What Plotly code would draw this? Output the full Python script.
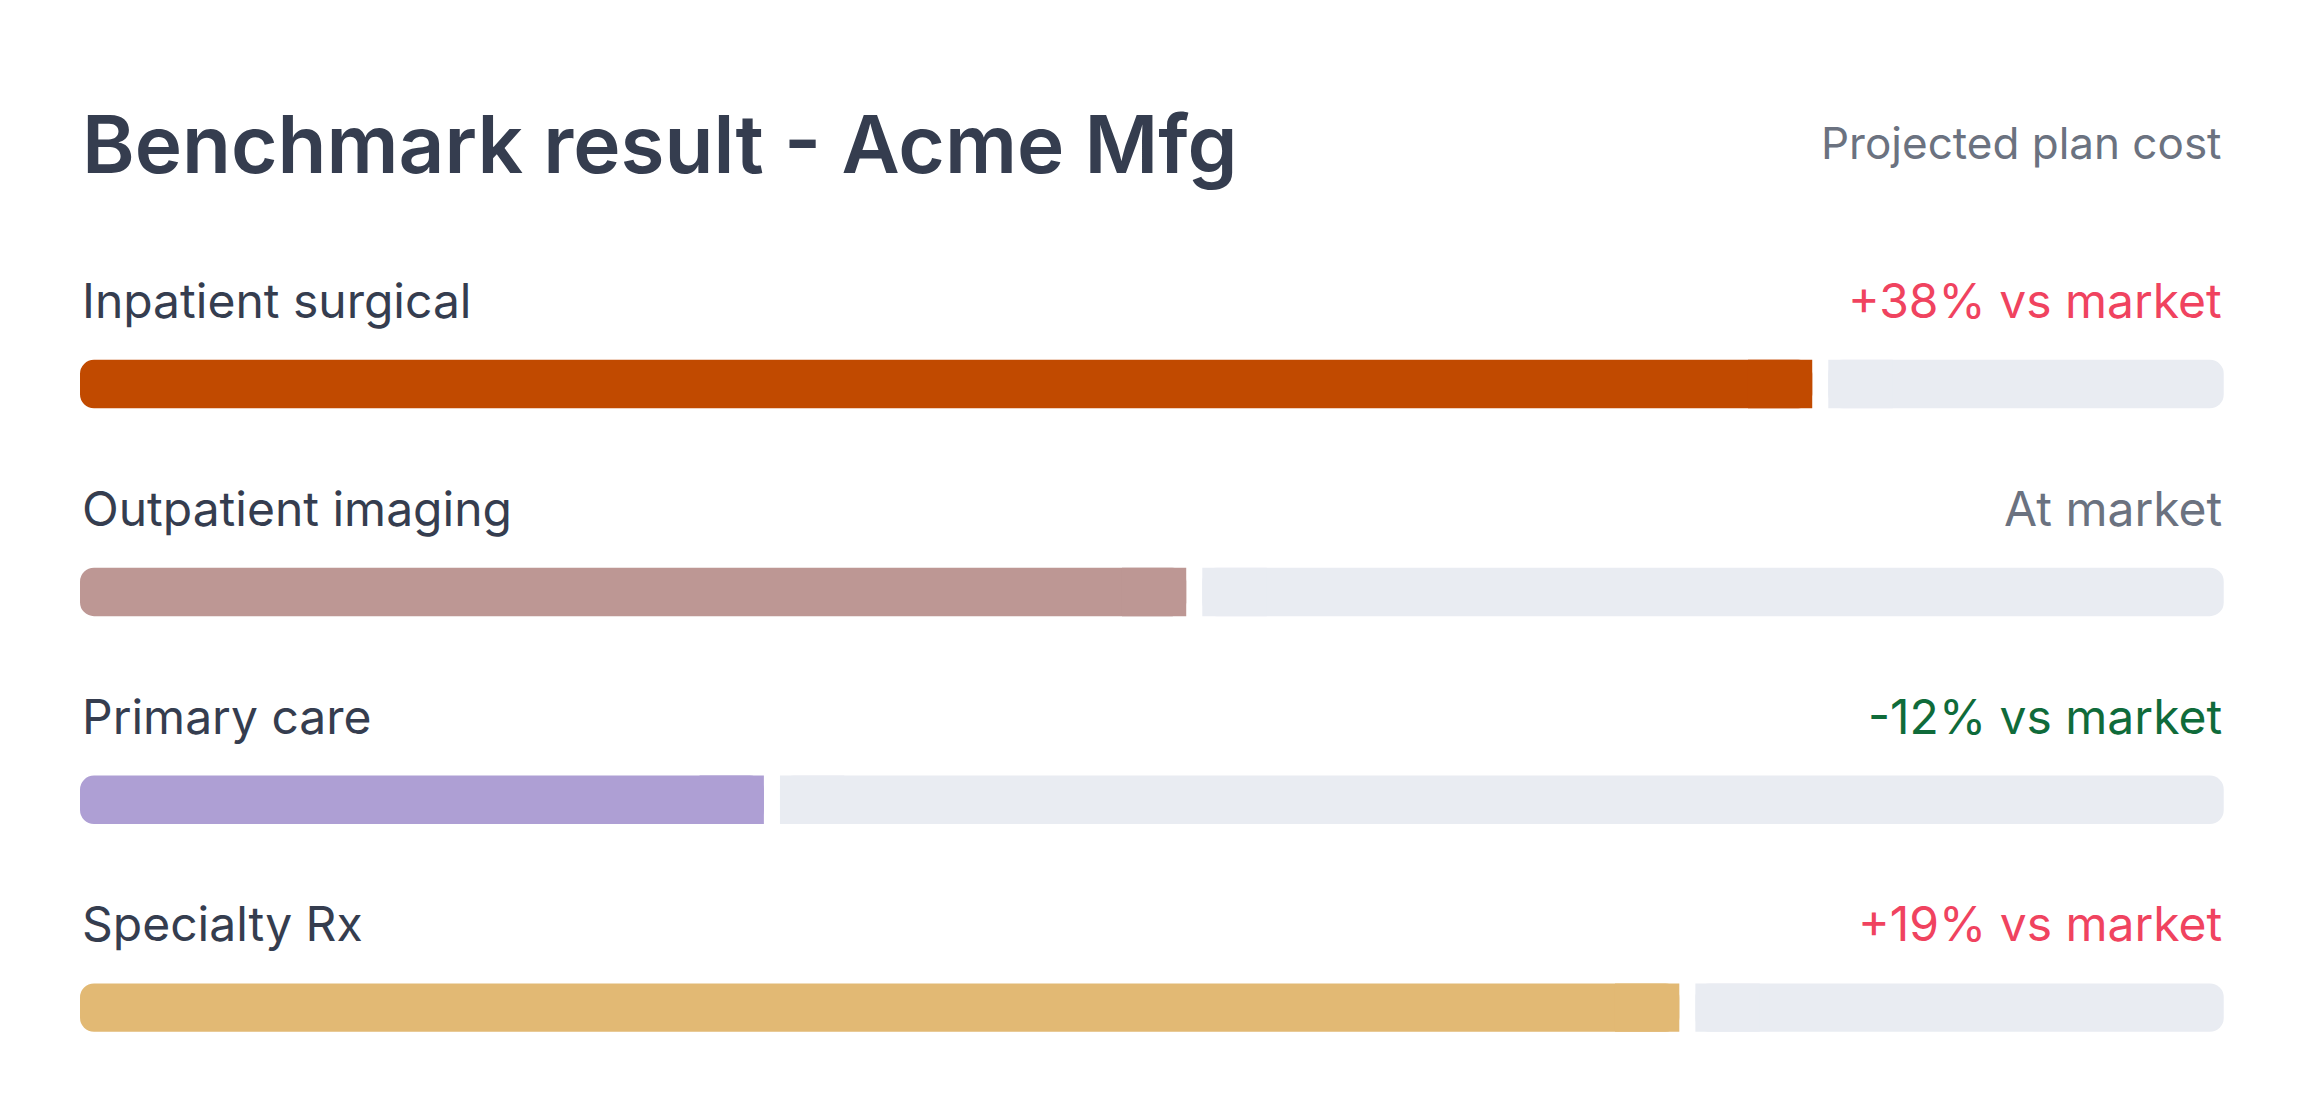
import plotly.graph_objects as go

# data
categories = ["Inpatient surgical", "Outpatient imaging", "Primary care", "Specialty Rx"]
shares = [80.8, 51.6, 31.9, 74.6]  # filled part of each track, % of track length
deltas = ["+38% vs market", "At market", "-12% vs market", "+19% vs market"]
delta_colors = ["#f0435f", "#6b7280", "#0f6b3a", "#f0435f"]
fill_colors = ["#c14a00", "#bd9794", "#ae9fd4", "#e2b974"]

TRACK = "#e9ecf2"
INK = "#353d4f"
GAP = 0.75
ROW0, STEP = 261, 141.5  # row positions in reference pixels
rows = [ROW0 + i * STEP for i in range(len(categories))]

fig = go.Figure()
for i, (cat, v) in enumerate(zip(categories, shares)):
    y = rows[i]
    # track (right end rounded), plus square patch on its left end
    fig.add_trace(go.Bar(x=[100 - v - GAP], base=[v + GAP], y=[y], orientation="h",
                         width=33, marker=dict(color=TRACK, cornerradius=14, line_width=0),
                         hoverinfo="skip", showlegend=False))
    fig.add_trace(go.Bar(x=[3], base=[v + GAP], y=[y], orientation="h",
                         width=33, marker=dict(color=TRACK, line_width=0),
                         hoverinfo="skip", showlegend=False))
    # fill (left end rounded), square patch on its right end
    fig.add_trace(go.Bar(x=[v], base=[0], y=[y], orientation="h", width=33,
                         marker=dict(color=fill_colors[i], cornerradius=14, line_width=0),
                         name=cat, showlegend=False))
    fig.add_trace(go.Bar(x=[3], base=[v - 3], y=[y], orientation="h", width=33,
                         marker=dict(color=fill_colors[i], line_width=0),
                         hoverinfo="skip", showlegend=False))
    fig.add_annotation(x=0, y=y - 57, xref="x", yref="y", text=cat, showarrow=False,
                       xanchor="left", yanchor="middle",
                       font=dict(family="Inter", size=48, color=INK))
    fig.add_annotation(x=100, y=y - 57, xref="x", yref="y", text=deltas[i], showarrow=False,
                       xanchor="right", yanchor="middle",
                       font=dict(family="Inter", size=48, color=delta_colors[i]))

fig.add_annotation(x=0, y=97, xref="x", yref="y", text="Benchmark result - Acme Mfg",
                   showarrow=False, xanchor="left", yanchor="middle",
                   font=dict(family="Inter", size=80, color=INK, weight=600))
fig.add_annotation(x=100, y=97, xref="x", yref="y", text="Projected plan cost",
                   showarrow=False, xanchor="right", yanchor="middle",
                   font=dict(family="Inter", size=44, color="#6b7280"))

fig.update_layout(
    width=2304, height=1112, barmode="overlay",
    margin=dict(l=0, r=0, t=0, b=0),
    paper_bgcolor="white", plot_bgcolor="white",
    xaxis=dict(range=[0, 100], domain=[49 / 1568, 1508 / 1568], visible=False, fixedrange=True),
    yaxis=dict(range=[762, 5], visible=False, fixedrange=True),
)
fig.write_html("out.html", config={"displayModeBar": False})
